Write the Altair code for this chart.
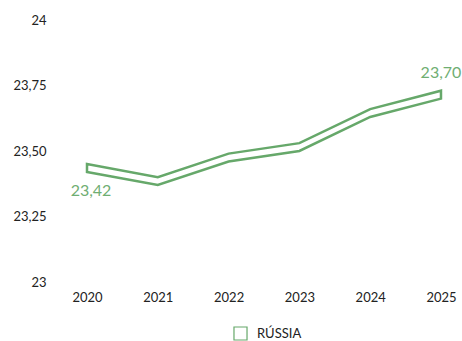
import altair as alt
import pandas as pd

years = [2020, 2021, 2022, 2023, 2024, 2025]
values = [23.42, 23.37, 23.46, 23.50, 23.63, 23.70]
series = "RÚSSIA"
band = 0.03
y_ticks = [23, 23.25, 23.5, 23.75, 24]

GREEN = "#66a86a"

df = pd.DataFrame({"year": years, "value": values, "country": [series] * len(years)})
df["top"] = df["value"] + band
df["label"] = [f"{v:.2f}".replace(".", ",") for v in values]

x = alt.X(
    "year:Q",
    scale=alt.Scale(domain=[2019.548, 2025.198], nice=False, zero=False),
    axis=alt.Axis(values=years, format="d", title=None, grid=False, domain=False,
                  ticks=False, labelPadding=9, labelFontSize=13, labelColor="#222",
                  labelFont="Lato"),
)
y_scale = alt.Scale(domain=[23, 24], nice=False, zero=False)

area = alt.Chart(df).mark_area(fill="white", strokeWidth=2.5, line=False).encode(
    x=x,
    y=alt.Y("value:Q", scale=y_scale,
            axis=alt.Axis(values=y_ticks, title=None, grid=False, domain=False,
                          ticks=False, labelPadding=9, labelFontSize=13,
                          labelColor="#222", labelFont="Lato",
                          labelExpr="replace(format(datum.value, datum.value % 1 == 0 ? 'd' : '.2f'), '.', ',')")),
    y2="top:Q",
    stroke=alt.Stroke("country:N", scale=alt.Scale(range=[GREEN]),
                      legend=alt.Legend(title=None, orient="none", legendX=178, legendY=306,
                                        symbolType="square",
                                        symbolFillColor="white", symbolStrokeWidth=1.2,
                                        symbolSize=170, labelFontSize=13, labelFont="Lato",
                                        labelColor="#222", labelOffset=9)),
)

first = alt.Chart(df[df["year"] == years[0]]).mark_text(
    dy=19, fontSize=16, font="Lato", color="#6fae72", baseline="middle", dx=4
).encode(x=alt.X("year:Q"), y=alt.Y("value:Q"), text="label:N")

last = alt.Chart(df[df["year"] == years[-1]]).mark_text(
    dy=-18, fontSize=16, font="Lato", color="#6fae72", baseline="middle"
).encode(x=alt.X("year:Q"), y=alt.Y("top:Q"), text="label:N")

chart = (area + first + last).properties(
    width=400, height=262,
    autosize="none",
    padding={"left": 55, "top": 20, "right": 7, "bottom": 59},
    background="white",
).configure_view(strokeWidth=0, stroke="transparent")

chart.save("out.html", embed_options={"renderer": "svg", "actions": False})
